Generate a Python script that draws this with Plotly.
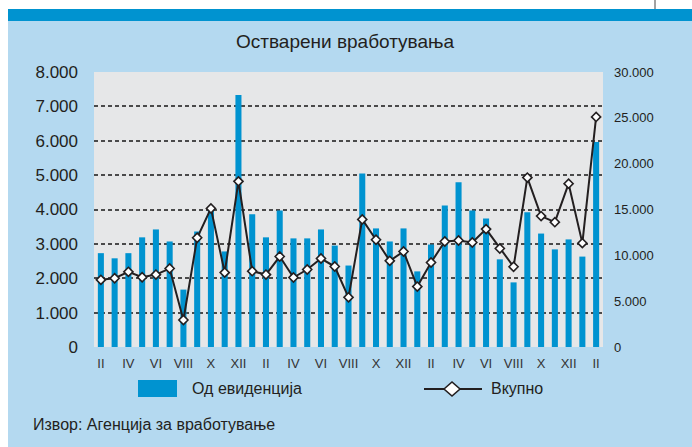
import plotly.graph_objects as go

months = ["II", "III", "IV", "V", "VI", "VII", "VIII", "IX", "X", "XI", "XII", "I",
          "II", "III", "IV", "V", "VI", "VII", "VIII", "IX", "X", "XI", "XII", "I",
          "II", "III", "IV", "V", "VI", "VII", "VIII", "IX", "X", "XI", "XII", "I",
          "II"]
od_evidencija = [2730, 2580, 2730, 3190, 3420, 3070, 1670, 3360, 4000, 2780, 7330, 3860,
                 3190, 3970, 3160, 3160, 3420, 2950, 2370, 5050, 3450, 3070, 3450, 2200,
                 2980, 4120, 4790, 3970, 3740, 2550, 1880, 3920, 3300, 2840, 3130, 2630,
                 5960]
vkupno = [7330, 7500, 8200, 7610, 7900, 8560, 2950, 11920, 15120, 8120, 18070, 8270,
          7900, 9870, 7580, 8450, 9650, 8780, 5420, 13920, 11700, 9400, 10420, 6590,
          9220, 11510, 11620, 11400, 12860, 10750, 8750, 18480, 14280, 13620, 17820, 11330,
          25100]
left_ticks = [0, 1000, 2000, 3000, 4000, 5000, 6000, 7000, 8000]
grid_ticks = [1000, 2000, 3000, 4000, 5000, 6000, 7000]
right_ticks = [0, 5000, 10000, 15000, 20000, 25000, 30000]

title_text = "Остварени вработувања"
bar_name = "Од евиденција"
line_name = "Вкупно"
source_text = "Извор: Агенција за вработување"

W, H = 692, 447
L, R, T, B = 94, 603, 72, 347
FONT = "Liberation Sans, Arial, sans-serif"
TXT = "#231f20"
BAR = "#0093d0"
LIGHT = "#b4d9f0"

x = list(range(len(months)))

def px(xp):
    return (xp - L) / (R - L)

def py(yp):
    return (B - yp) / (B - T)

fig = go.Figure()
# invisible trace to carry the dashed grid axis
fig.add_trace(go.Scatter(x=x, y=od_evidencija, yaxis="y3", mode="markers",
                         marker=dict(opacity=0), hoverinfo="skip", showlegend=False))
fig.add_trace(go.Bar(x=x, y=od_evidencija, name=bar_name, marker_color=BAR,
                     marker_line_width=0, showlegend=False))
fig.add_trace(go.Scatter(x=x, y=vkupno, name=line_name, yaxis="y2", mode="lines+markers",
                         line=dict(color="#231f20", width=2),
                         marker=dict(symbol="diamond", size=7, color="white",
                                     line=dict(color="#231f20", width=1.6)),
                         showlegend=False))

fig.update_layout(
    width=W, height=H,
    margin=dict(l=L, r=W - R, t=T, b=H - B, pad=0, autoexpand=False),
    paper_bgcolor=LIGHT,
    plot_bgcolor="#e6e7e8",
    separators=",.",
    bargap=0.56,
    showlegend=False,
    font=dict(family=FONT, color=TXT),
    xaxis=dict(range=[-0.5, len(months) - 0.5], tickmode="array",
               tickvals=x[::2], ticktext=months[::2], showgrid=False, zeroline=False,
               ticks="", tickfont=dict(size=13, color="#333"), ticklabelstandoff=7,
               showline=False),
    yaxis=dict(range=[0, 8000], tickmode="array", tickvals=left_ticks,
               tickformat=",d", showgrid=False, zeroline=False, ticks="",
               tickfont=dict(size=17, color=TXT), ticklabelstandoff=15),
    yaxis2=dict(range=[0, 30000], overlaying="y", side="right", tickmode="array",
                tickvals=right_ticks, tickformat=",d", showgrid=False, zeroline=False,
                ticks="", tickfont=dict(size=13, color=TXT), ticklabelstandoff=10),
    yaxis3=dict(range=[0, 8000], overlaying="y", tickmode="array", tickvals=grid_ticks,
                showgrid=True, gridcolor="#4a4a4a", griddash="4px,3px", gridwidth=1.5,
                showticklabels=False, zeroline=False, ticks=""),
)

shapes = [
    # white margins
    dict(type="rect", xref="paper", yref="paper", x0=px(0), x1=px(W), y0=py(0), y1=py(9),
         fillcolor="white", line_width=0, layer="above"),
    dict(type="rect", xref="paper", yref="paper", x0=px(0), x1=px(8), y0=py(0), y1=py(H),
         fillcolor="white", line_width=0, layer="above"),
    # dark blue band
    dict(type="rect", xref="paper", yref="paper", x0=px(8), x1=px(W), y0=py(9), y1=py(21),
         fillcolor="#0093d0", line_width=0, layer="above"),
    # small vertical line at top
    dict(type="line", xref="paper", yref="paper", x0=px(655), x1=px(655), y0=py(0), y1=py(9),
         line=dict(color="#444", width=1), layer="above"),
    # legend: bar swatch
    dict(type="rect", xref="paper", yref="paper", x0=px(138), x1=px(177), y0=py(380), y1=py(397),
         fillcolor=BAR, line_width=0, layer="above"),
    # legend: line
    dict(type="line", xref="paper", yref="paper", x0=px(424), x1=px(482), y0=py(389), y1=py(389),
         line=dict(color="#231f20", width=2), layer="above"),
    dict(type="path", xref="paper", yref="paper",
         path=f"M {px(444)} {py(389)} L {px(452)} {py(382)} L {px(460)} {py(389)} L {px(452)} {py(396)} Z",
         fillcolor="white", line=dict(color="#231f20", width=1.6), layer="above"),
]

annotations = [
    dict(text=title_text, xref="paper", yref="paper", x=px(345), y=py(42),
         xanchor="center", yanchor="middle", showarrow=False,
         font=dict(size=19, color=TXT, family=FONT)),
    dict(text=bar_name, xref="paper", yref="paper", x=px(190), y=py(388),
         xanchor="left", yanchor="middle", showarrow=False,
         font=dict(size=16, color=TXT, family=FONT)),
    dict(text=line_name, xref="paper", yref="paper", x=px(489), y=py(388),
         xanchor="left", yanchor="middle", showarrow=False,
         font=dict(size=16, color=TXT, family=FONT)),
    dict(text=source_text, xref="paper", yref="paper", x=px(31), y=py(424),
         xanchor="left", yanchor="middle", showarrow=False,
         font=dict(size=16, color=TXT, family=FONT)),
]
fig.update_layout(shapes=shapes, annotations=annotations)

fig.write_html("out.html", config={"displayModeBar": False},
               post_script="document.body.style.margin='0';document.body.style.padding='0';")
